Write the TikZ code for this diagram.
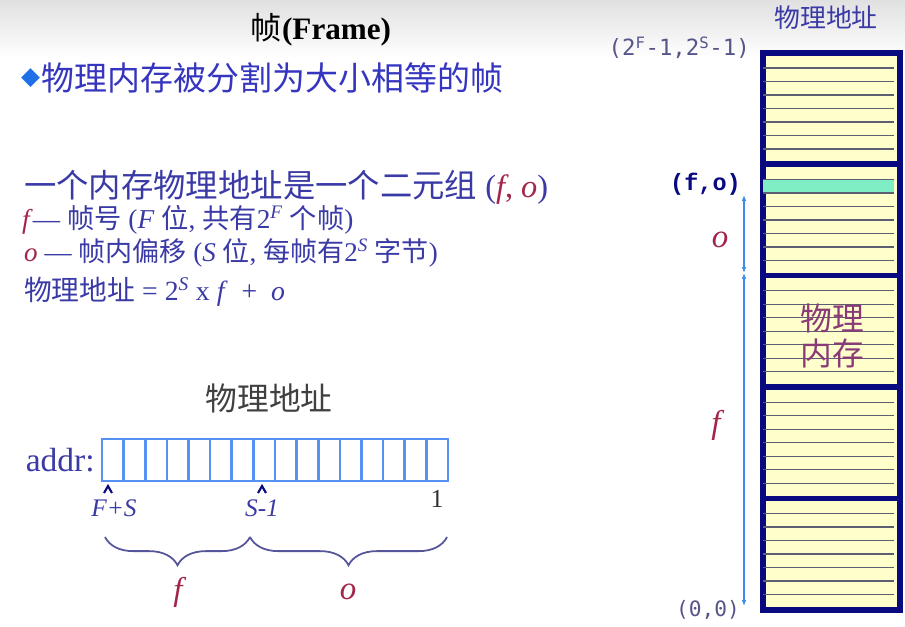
\documentclass[tikz,border=0pt]{standalone}
\usepackage{fontspec}
\setmainfont{Liberation Serif}
\newfontfamily\cjk{Noto Sans CJK SC}
\newfontfamily\monofnt{DejaVu Sans Mono}
\newfontfamily\courfnt{Liberation Mono}
\newfontfamily\symfnt{DejaVu Sans}
\usepackage{tikz}
\usetikzlibrary{positioning,decorations.pathreplacing,arrows.meta}

\definecolor{slidetext}{HTML}{3A3AA6}
\definecolor{bullettext}{HTML}{3535C0}
\definecolor{diamondblue}{HTML}{1F6FE8}
\definecolor{varred}{HTML}{A3264A}
\definecolor{plum}{HTML}{8B3A78}
\definecolor{framenavy}{HTML}{0A0A80}
\definecolor{stripfill}{HTML}{FFFFCC}
\definecolor{stripline}{HTML}{5E5E72}
\definecolor{hitstrip}{HTML}{80EEC4}
\definecolor{arrowblue}{HTML}{3D8EEA}
\definecolor{cellblue}{HTML}{5592F2}
\definecolor{bracegray}{HTML}{55559A}
\definecolor{coordgray}{HTML}{55558A}

\newcommand{\rv}[1]{\textcolor{varred}{\textit{#1}}}

\begin{document}
\begin{tikzpicture}[x=0.85pt, y=-0.85pt, every node/.style={inner sep=0pt},
    txt/.style={anchor=west, text=slidetext},
    memframe/.style={draw=framenavy, line width=4.8pt, fill=stripfill, anchor=north west,
        minimum width=116.5pt, minimum height=94.7pt},
    strip/.style={stripline, line width=1.1pt},
    bitcell/.style={draw=cellblue, line width=2.2pt, outer sep=0pt,
        minimum width=18.4pt, minimum height=35.7pt},
    span/.style={{Latex[length=5pt,width=4pt]}-{Latex[length=5pt,width=4pt]}, arrowblue, line width=1pt},
    brc/.style={decorate, decoration={brace, amplitude=24pt}, bracegray, line width=1.5pt},
    caret/.style={framenavy, line width=1.8pt},
    var/.style={text=varred, font=\fontsize{28}{30}\selectfont\itshape}]
        \fill[white] (0,0) rectangle (905,626);
        \shade[top color=black!12, bottom color=white] (0,0) rectangle (905,58);
        \useasboundingbox (0,0) rectangle (905,626);

        % left: text
        \node[font=\fontsize{26.5}{30}\selectfont\bfseries] (title) at (321,30) {{\cjk\mdseries 帧}(Frame)};
        \node[anchor=west, text=diamondblue, font=\symfnt\fontsize{21}{22}\selectfont] (dia) at (21,78) {◆};
        \node[txt, text=bullettext, font=\cjk\fontsize{28}{30}\selectfont, right=1pt of dia] (split) {物理内存被分割为大小相等的帧};
        \node[txt, font=\fontsize{27.5}{30}\selectfont] (tuple) at (24,187) {{\cjk 一个内存物理地址是一个二元组} (\textcolor{varred}{\textit{f}, \textit{o}})};
        \node[txt, font=\fontsize{23.2}{26}\selectfont] (fline) at (22,220) {\rv{f}— {\cjk 帧号} (\textit{F} {\cjk 位}, {\cjk 共有}2\textsuperscript{\textit{F}} {\cjk 个帧})};
        \node[txt, font=\fontsize{23}{26}\selectfont] (oline) at (24,253) {\rv{o} — {\cjk 帧内偏移} (\textit{S} {\cjk 位}, {\cjk 每帧有}2\textsuperscript{\textit{S}} {\cjk 字节})};
        \node[txt, font=\fontsize{23.6}{26}\selectfont] (formula) at (24,292) {{\cjk 物理地址} = 2\textsuperscript{\textit{S}} x \textit{f} \ + \ \textit{o}};

        % left: address bits
        \node[font=\cjk\fontsize{27}{30}\selectfont, text=black!75] (addrcap) at (269,398) {物理地址};
        \foreach \i in {1,...,16}
            \node[bitcell] (c\i) at ({102+21.625*(\i-0.5)},460) {};
        \node[left=6pt of c1, font=\fontsize{28.5}{30}\selectfont, text=slidetext] (addr) {addr:};
        \draw[caret] (104,493) -- (108,486) -- (112,493);
        \draw[caret] (258,493) -- (262,486) -- (266,493);
        \node[font=\fontsize{21.5}{24}\selectfont\itshape, text=slidetext] (fs) at (114,508) {F+S};
        \node[font=\fontsize{21.5}{24}\selectfont\itshape, text=slidetext] (sm) at (262,508) {S-1};
        \node[font=\fontsize{22}{24}\selectfont, text=black!80] (one) at (437,499) {1};
        \coordinate (b0) at (105,537);
        \coordinate (b1) at (250,537);
        \coordinate (b2) at (447,537);
        \draw[brc] (b1) -- (b0);
        \draw[brc] (b2) -- (b1);
        \node[var] (fpart) at (178,592) {f};
        \node[var] (opart) at (348,592) {o};

        % right: memory frames
        \node[font=\cjk\fontsize{22}{24}\selectfont, text=slidetext] (memcap) at (826,18) {物理地址};
        \foreach \i in {1,...,5}
            \node[memframe] (fr\i) at (760,{50+111.4*(\i-1)}) {};
        \fill[hitstrip] (763,179.4) rectangle (894,192.9);
        \foreach \i in {1,...,5}
            \foreach \k in {1,...,7}
                \draw[strip] (763,{50+111.4*(\i-1)+4.5+13.5*\k}) -- ++(131,0);
        \node[align=center, font=\cjk\fontsize{27}{29}\selectfont, text=plum] (memlbl) at (832,336) {物理\\内存};
        \node[anchor=east, font=\monofnt\fontsize{19}{20}\selectfont, text=coordgray] (topaddr) at (750,48) {(2\textsuperscript{F}-1,2\textsuperscript{S}-1)};
        \node[anchor=east, font=\courfnt\bfseries\fontsize{20}{22}\selectfont, text=framenavy] (hit) at (741,184) {(f,o)};
        \node[anchor=east, font=\monofnt\fontsize{18}{20}\selectfont, text=coordgray] (origin) at (740,610) {(0,0)};
        \coordinate (otop) at (744,195);
        \coordinate (omid) at (744,273);
        \coordinate (fbot) at (744,606);
        \draw[span] (omid) -- (otop);
        \draw[span] (omid) -- (fbot);
        \node[var] (olbl) at (720,240) {o};
        \node[var] (flbl) at (716,425) {f};
\end{tikzpicture}
\end{document}
